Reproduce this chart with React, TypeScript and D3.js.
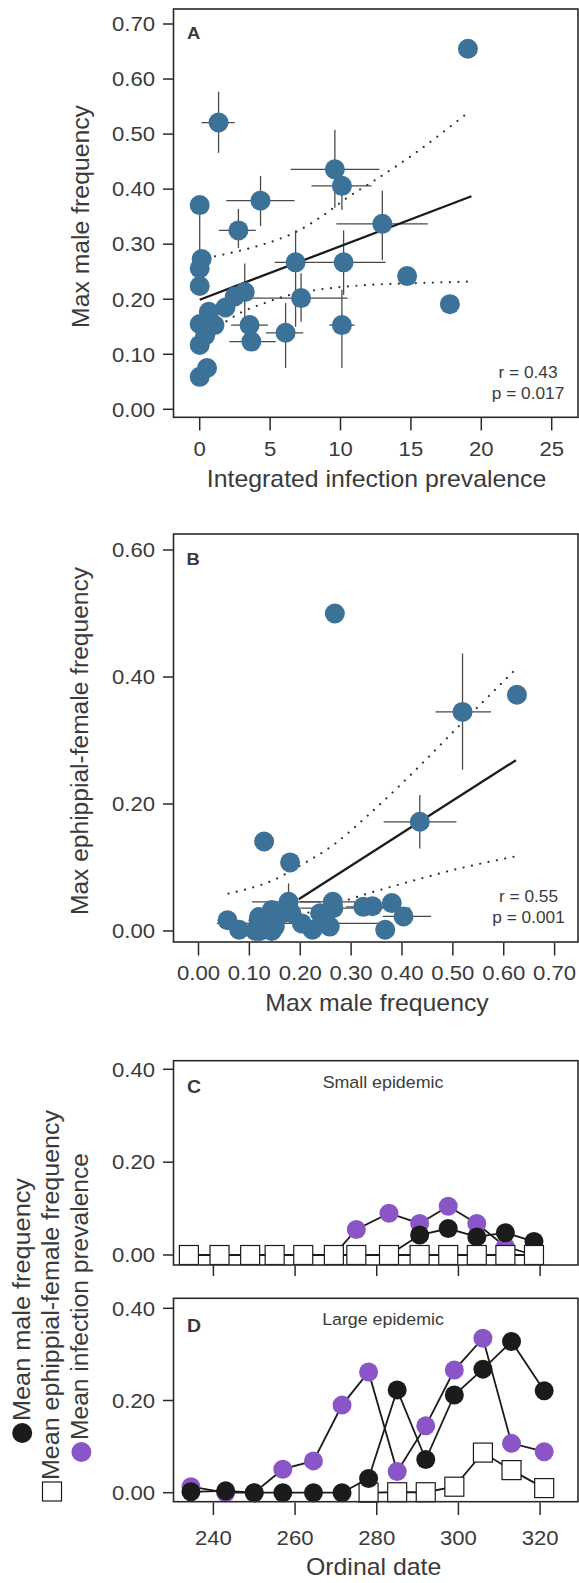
import React from 'react';
import * as d3 from 'd3';

const W = 579;
const H = 1583;
const FONT = '"Liberation Sans", Arial, Helvetica, sans-serif';
const INK = '#3a3a3a';
const AX = '#2a2a2a';
const BLUE = '#3c7198';
const PURPLE = '#8a55c6';
const BLACK = '#1b1b1b';
const SX = 1.08; // the figure's glyphs run a little wider than Arial
const N = null;

// ---- panel A: integrated infection prevalence vs max male frequency ----
const prevA = [19.05, 1.34, 9.6, 10.1, 0, 4.32, 2.75, 12.97, 0.14, 0, 0, 6.81, 10.22, 14.73, 17.77,
  7.2, 10.1, 6.1, 3.54, 3.67, 3.2, 2.49, 1.83, 0.65, 1.05, 0, 0.39, 0, 0.52, 0];
const maleA = [0.655, 0.521, 0.436, 0.406, 0.371, 0.379, 0.325, 0.337, 0.273, 0.256, 0.224, 0.267, 0.267, 0.242, 0.191,
  0.202, 0.153, 0.139, 0.153, 0.123, 0.213, 0.205, 0.185, 0.177, 0.153, 0.155, 0.134, 0.117, 0.075, 0.059];
const prevLoA = [N, 0.13, 6.46, 7.94, N, 1.89, 1.36, 9.7, N, N, N, 5.32, 8.2, N, N,
  3.0, 9.2, 4.7, 2.23, 2.1, N, N, N, N, N, N, N, N, N, N];
const prevHiA = [N, 2.49, 12.76, 12.2, N, 6.74, 3.98, 16.2, N, N, N, 8.2, 13.2, N, N,
  10.5, 11.0, 7.35, 4.85, 5.4, N, N, N, N, N, N, N, N, N, N];
const maleLoA = [N, 0.466, 0.366, 0.362, 0.275, 0.333, 0.293, 0.271, N, N, N, 0.15, 0.208, N, N,
  0.159, 0.075, 0.075, N, N, 0.144, N, N, N, N, N, N, N, N, N];
const maleHiA = [N, 0.577, 0.508, 0.42, 0.371, 0.424, 0.364, 0.397, N, N, N, 0.325, 0.325, N, N,
  0.247, 0.217, 0.193, N, N, 0.265, N, N, N, N, N, N, N, N, N];
const fitAx = [0, 19.3];
const fitAy = [0.199, 0.387];
const upAx = [0.5, 3.6, 5.5, 6.9, 8.8, 10.5, 12.3, 15, 19.0];
const upAy = [0.275, 0.293, 0.308, 0.323, 0.353, 0.385, 0.414, 0.46, 0.538];
const loAx = [1.9, 3, 4.3, 6, 8.3, 10, 12, 15, 19.3];
const loAy = [0.16, 0.177, 0.19, 0.205, 0.217, 0.222, 0.226, 0.229, 0.232];
const ticksAx = [0, 5, 10, 15, 20, 25];
const ticksAy = [0, 0.1, 0.2, 0.3, 0.4, 0.5, 0.6, 0.7];

// ---- panel B: max male frequency vs max ephippial-female frequency ----
const maleB = [0.268, 0.519, 0.626, 0.435, 0.129, 0.18, 0.057, 0.08, 0.118, 0.121, 0.144, 0.15, 0.167, 0.177, 0.183,
  0.203, 0.224, 0.239, 0.258, 0.264, 0.265, 0.324, 0.342, 0.38, 0.403, 0.367, 0.112, 0.144, 0.119];
const ephB = [0.5, 0.345, 0.372, 0.172, 0.141, 0.108, 0.017, 0.002, 0.017, 0, 0.033, 0.007, 0.028, 0.046, 0.028,
  0.012, 0.002, 0.028, 0.007, 0.046, 0.036, 0.038, 0.039, 0.044, 0.023, 0.002, 0, 0, 0.022];
const maleLoB = [N, 0.466, N, 0.364, N, N, N, N, N, N, N, N, N, 0.105, N,
  0.036, N, N, N, 0.2, 0.2, 0.29, N, N, 0.362, N, N, N, N];
const maleHiB = [N, 0.575, N, 0.507, N, N, N, N, N, N, N, N, N, 0.24, N,
  0.363, N, N, N, 0.33, 0.416, 0.363, N, N, 0.457, N, N, N, N];
const ephLoB = [N, 0.254, N, 0.13, N, N, N, N, N, N, N, N, N, 0.02, N,
  N, N, N, N, N, N, N, N, N, N, N, N, N, N];
const ephHiB = [N, 0.437, N, 0.214, N, N, N, N, N, N, N, N, N, 0.075, N,
  N, N, N, N, N, N, N, N, N, N, N, N, N, N];
const fitBx = [0.197, 0.624];
const fitBy = [0.05, 0.269];
const upBx = [0.059, 0.1, 0.147, 0.193, 0.264, 0.337, 0.446, 0.511, 0.628];
const upBy = [0.059, 0.067, 0.08, 0.1, 0.135, 0.185, 0.269, 0.322, 0.416];
const loBx = [0.2, 0.27, 0.337, 0.403, 0.5, 0.62];
const loBy = [0.025, 0.043, 0.06, 0.075, 0.096, 0.117];
const ticksBx = [0, 0.1, 0.2, 0.3, 0.4, 0.5, 0.6, 0.7];
const ticksBy = [0, 0.2, 0.4, 0.6];

// ---- panels C, D: time series (null = not sampled) ----
const daysC = [234, 241.5, 249, 255, 262, 269.5, 275, 283, 290.5, 297.5, 304.5, 311.5, 318.5];
const maleC = [0, 0, 0, 0, 0, 0, 0, 0, 0.043, 0.057, 0.039, 0.048, 0.029];
const ephC = [0, 0, 0, 0, 0, 0, 0, 0, 0, 0, 0, 0, 0];
const infC = [0, 0, 0, 0, 0, 0, 0.055, 0.09, 0.068, 0.105, 0.068, 0.018, 0];
const daysD = [234.5, 243, 250, 257, 264.5, 271.5, 278, 285, 292, 299, 306, 313, 321];
const maleD = [0.002, 0.004, 0, 0, 0, 0, 0.031, 0.223, 0.072, 0.212, 0.268, 0.328, 0.221];
const ephD = [N, N, N, N, N, N, 0, 0.001, 0.001, 0.013, 0.087, 0.049, 0.01];
const infD = [0.013, 0, 0, 0.051, 0.069, 0.19, 0.262, 0.046, 0.145, 0.266, 0.335, 0.107, 0.089];
const ticksDate = [240, 260, 280, 300, 320];
const ticksCD = [0, 0.2, 0.4];

const FL = 173.5;
const FR = 578;

const xA = d3.scaleLinear().domain([0, 25]).range([199.7, 551.7]);
const yA = d3.scaleLinear().domain([0, 0.7]).range([409.3, 24]);
const xB = d3.scaleLinear().domain([0, 0.7]).range([198.5, 554.6]);
const yB = d3.scaleLinear().domain([0, 0.6]).range([931, 550]);
const xT = d3.scaleLinear().domain([240, 320]).range([213.4, 540.1]);
const yC = d3.scaleLinear().domain([0, 0.4]).range([1255, 1069.3]);
const yD = d3.scaleLinear().domain([0, 0.4]).range([1492.7, 1308.3]);

type TP = {
  x: number; y: number; size: number; anchor?: string; weight?: string | number;
  rot?: number; len?: number; children: React.ReactNode;
};
const Txt = ({ x, y, size, anchor = 'middle', weight = 'normal', rot = 0, len, children }: TP) => (
  <text
    transform={`translate(${x},${y}) rotate(${rot})` + (len ? '' : ` scale(${SX},1)`)}
    fontSize={size}
    fontFamily={FONT}
    fontWeight={weight}
    textAnchor={anchor}
    fill={INK}
    {...(len ? { textLength: len, lengthAdjust: 'spacingAndGlyphs' } : {})}
  >
    {children}
  </text>
);

const Frame = ({ top, bottom }: { top: number; bottom: number }) => (
  <rect x={FL} y={top} width={FR - FL} height={bottom - top} fill="none" stroke={AX} strokeWidth={1.6} />
);

const YAxis = ({ y, ticks, fmt }: { y: d3.ScaleLinear<number, number>; ticks: number[]; fmt: (v: number) => string }) => (
  <g>
    {ticks.map((t) => (
      <g key={t}>
        <line x1={163} x2={FL} y1={y(t)} y2={y(t)} stroke={AX} strokeWidth={1.5} />
        <Txt x={155} y={y(t) + 7.3} size={20.5} anchor="end">{fmt(t)}</Txt>
      </g>
    ))}
  </g>
);

const XAxis = ({ x, ticks, y1, y2, labelY, fmt }: {
  x: d3.ScaleLinear<number, number>; ticks: number[]; y1: number; y2: number; labelY?: number; fmt?: (v: number) => string;
}) => (
  <g>
    {ticks.map((t) => (
      <g key={t}>
        <line x1={x(t)} x2={x(t)} y1={y1} y2={y2} stroke={AX} strokeWidth={1.5} />
        {labelY !== undefined && fmt && <Txt x={x(t)} y={labelY} size={20.5}>{fmt(t)}</Txt>}
      </g>
    ))}
  </g>
);

const pathOf = (xs: number[], ys: (number | null)[], x: d3.ScaleLinear<number, number>, y: d3.ScaleLinear<number, number>, curve = false) => {
  const ln = d3.line<number>()
    .defined((i) => ys[i] !== null)
    .x((i) => x(xs[i]))
    .y((i) => y(ys[i] as number));
  if (curve) ln.curve(d3.curveMonotoneX);
  return ln(xs.map((_, i) => i)) || '';
};

const Scatter = ({ xs, ys, xLo, xHi, yLo, yHi, x, y, fit, up, lo }: any) => (
  <g>
    {xs.map((v: number, i: number) => (
      <g key={'e' + i} stroke="#4a4a4a" strokeWidth={1.3}>
        {xLo[i] !== null && <line x1={x(xLo[i])} x2={x(xHi[i])} y1={y(ys[i])} y2={y(ys[i])} />}
        {yLo[i] !== null && <line x1={x(v)} x2={x(v)} y1={y(yLo[i])} y2={y(yHi[i])} />}
      </g>
    ))}
    <path d={pathOf(up[0], up[1], x, y, true)} fill="none" stroke="#333" strokeWidth={2.2}
      strokeDasharray="0.01 8.5" strokeLinecap="round" />
    <path d={pathOf(lo[0], lo[1], x, y, true)} fill="none" stroke="#333" strokeWidth={2.2}
      strokeDasharray="0.01 8.5" strokeLinecap="round" />
    <path d={pathOf(fit[0], fit[1], x, y)} fill="none" stroke={BLACK} strokeWidth={2.3} />
    {xs.map((v: number, i: number) => (
      <circle key={'p' + i} cx={x(v)} cy={y(ys[i])} r={10} fill={BLUE} />
    ))}
  </g>
);

const Series = ({ days, vals, y, kind }: {
  days: number[]; vals: (number | null)[]; y: d3.ScaleLinear<number, number>; kind: 'male' | 'inf' | 'eph';
}) => (
  <g>
    <path d={pathOf(days, vals, xT, y)} fill="none" stroke={BLACK} strokeWidth={1.8} />
    {vals.map((v, i) =>
      v === null ? null : kind === 'eph' ? (
        <rect key={i} x={xT(days[i]) - 9.5} y={y(v) - 9.5} width={19} height={19} fill="#fff" stroke={BLACK} strokeWidth={1.2} />
      ) : (
        <circle key={i} cx={xT(days[i])} cy={y(v)} r={9.5} fill={kind === 'male' ? BLACK : PURPLE} />
      ),
    )}
  </g>
);

const f2 = (v: number) => v.toFixed(2);

export default function App() {
  return (
    <svg width={W} height={H} viewBox={`0 0 ${W} ${H}`}
      style={{ position: 'absolute', left: 0, top: 0, background: '#fff' }}>
      {/* Panel A */}
      <Scatter xs={prevA} ys={maleA} xLo={prevLoA} xHi={prevHiA} yLo={maleLoA} yHi={maleHiA} x={xA} y={yA}
        fit={[fitAx, fitAy]} up={[upAx, upAy]} lo={[loAx, loAy]} />
      <Frame top={9} bottom={417.3} />
      <YAxis y={yA} ticks={ticksAy} fmt={f2} />
      <XAxis x={xA} ticks={ticksAx} y1={418} y2={430.5} labelY={456} fmt={(v) => String(v)} />
      <Txt x={187} y={39} size={17} anchor="start" weight="bold">A</Txt>
      <Txt x={528} y={377.5} size={16}>r = 0.43</Txt>
      <Txt x={528} y={398.5} size={16}>p = 0.017</Txt>
      <Txt x={376.6} y={487.3} size={23}>Integrated infection prevalence</Txt>
      <Txt x={88.5} y={216.5} size={23} rot={-90} len={223}>Max male frequency</Txt>

      {/* Panel B */}
      <Scatter xs={maleB} ys={ephB} xLo={maleLoB} xHi={maleHiB} yLo={ephLoB} yHi={ephHiB} x={xB} y={yB}
        fit={[fitBx, fitBy]} up={[upBx, upBy]} lo={[loBx, loBy]} />
      <Frame top={534} bottom={942} />
      <YAxis y={yB} ticks={ticksBy} fmt={f2} />
      <XAxis x={xB} ticks={ticksBx} y1={943} y2={955.5} labelY={980} fmt={f2} />
      <Txt x={186.5} y={565} size={17} anchor="start" weight="bold">B</Txt>
      <Txt x={528.5} y={902} size={16}>r = 0.55</Txt>
      <Txt x={528.5} y={923} size={16}>p = 0.001</Txt>
      <Txt x={377} y={1011} size={23}>Max male frequency</Txt>
      <Txt x={88} y={741} size={23} rot={-90} len={348}>Max ephippial-female frequency</Txt>

      {/* Panel C */}
      <Series days={daysC} vals={infC} y={yC} kind="inf" />
      <Series days={daysC} vals={maleC} y={yC} kind="male" />
      <Series days={daysC} vals={ephC} y={yC} kind="eph" />
      <Frame top={1060.7} bottom={1265} />
      <YAxis y={yC} ticks={ticksCD} fmt={f2} />
      <XAxis x={xT} ticks={ticksDate} y1={1265.5} y2={1276} />
      <Txt x={187} y={1093} size={18} anchor="start" weight="bold">C</Txt>
      <Txt x={383} y={1088} size={16.5}>Small epidemic</Txt>

      {/* Panel D */}
      <Series days={daysD} vals={ephD} y={yD} kind="eph" />
      <Series days={daysD} vals={infD} y={yD} kind="inf" />
      <Series days={daysD} vals={maleD} y={yD} kind="male" />
      <Frame top={1298.3} bottom={1501.7} />
      <YAxis y={yD} ticks={ticksCD} fmt={f2} />
      <XAxis x={xT} ticks={ticksDate} y1={1502.5} y2={1515} labelY={1545} fmt={(v) => String(v)} />
      <Txt x={187} y={1331.7} size={18} anchor="start" weight="bold">D</Txt>
      <Txt x={383} y={1325} size={16.5}>Large epidemic</Txt>
      <Txt x={373.6} y={1575} size={23}>Ordinal date</Txt>

      {/* shared legend / y title for C and D */}
      <circle cx={22.2} cy={1433} r={10} fill={BLACK} />
      <Txt x={30} y={1421} size={23} rot={-90} anchor="start" len={243}>Mean male frequency</Txt>
      <rect x={42.5} y={1482} width={19} height={19} fill="#fff" stroke={BLACK} strokeWidth={1.2} />
      <Txt x={59} y={1480} size={23} rot={-90} anchor="start" len={370}>Mean ephippial-female frequency</Txt>
      <circle cx={81.4} cy={1452} r={10} fill={PURPLE} />
      <Txt x={88} y={1440} size={23} rot={-90} anchor="start" len={287}>Mean infection prevalence</Txt>
    </svg>
  );
}
